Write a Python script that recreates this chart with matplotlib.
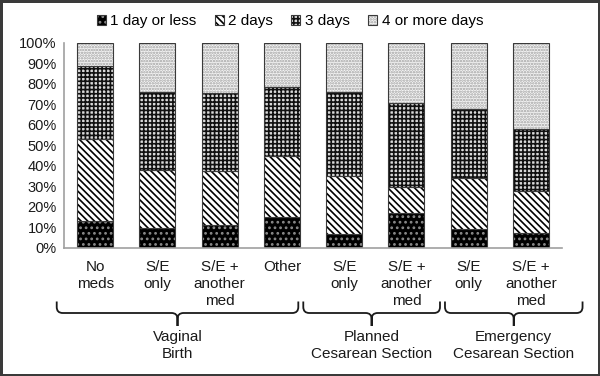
import matplotlib
matplotlib.use("Agg")
import matplotlib.pyplot as plt
from matplotlib.patches import Patch, PathPatch
from matplotlib.path import Path
from matplotlib.legend_handler import HandlerTuple
import numpy as np

plt.rcParams['font.family'] = ['Liberation Sans', 'DejaVu Sans']
plt.rcParams['hatch.linewidth'] = 1.2

categories = ["No\nmeds", "S/E\nonly", "S/E +\nanother\nmed", "Other",
              "S/E\nonly", "S/E +\nanother\nmed", "S/E\nonly", "S/E +\nanother\nmed"]
groups = ["Vaginal\nBirth", "Planned\nCesarean Section", "Emergency\nCesarean Section"]
series = ["1 day or less", "2 days", "3 days", "4 or more days"]
one_day = [13.2, 9.8, 11.1, 15.1, 6.7, 16.9, 9.1, 7.0]
two_days = [39.7, 27.9, 26.2, 29.8, 28.3, 12.7, 25.0, 20.5]
three_days = [35.9, 38.3, 38.2, 33.3, 40.8, 41.0, 33.4, 30.3]
four_plus = [11.2, 24.0, 24.5, 21.8, 24.2, 29.4, 32.5, 42.2]
values = [one_day, two_days, three_days, four_plus]

styles = [
    dict(facecolor='black', edgecolor='#8a8a8a', hatch='...'),
    dict(facecolor='white', edgecolor='black', hatch='\\\\\\\\\\'),
    dict(facecolor='#d8d8d8', edgecolor='#101010', hatch='++++'),
    dict(facecolor='#f6f6f6', edgecolor='#a0a0a0', hatch='......'),
]
outline = '#3a3a3a'

W, H = 600, 376
fig = plt.figure(figsize=(6, 3.76), dpi=100)
fig.patch.set_edgecolor('#3a3a3a')
fig.patch.set_linewidth(2.5)

ax = fig.add_axes([64 / W, 1 - 247.7 / H, 498 / W, 205 / H])
x = np.arange(len(categories))
bw = 0.58
bottom = np.zeros(len(categories))
for vals, st in zip(values, styles):
    v = np.array(vals) / 100.0
    ax.bar(x, v, bw, bottom=bottom, linewidth=0, **st)
    ax.bar(x, v, bw, bottom=bottom, fill=False, edgecolor=outline, linewidth=0.8)
    bottom += v

ax.set_xlim(-0.5, len(categories) - 0.5)
ax.set_ylim(0, 1)
ticks = np.linspace(0, 1, 11)
ax.set_yticks(ticks)
ax.set_yticklabels([f"{int(round(t * 100))}%" for t in ticks], fontsize=10.5)
ax.tick_params(axis='y', length=0, pad=5.3, colors='#1a1a1a')
ax.set_xticks(x)
ax.set_xticklabels(categories, fontsize=11, linespacing=1.25, color='#1a1a1a')
ax.tick_params(axis='x', length=0, pad=9)
for s in ['top', 'right']:
    ax.spines[s].set_visible(False)
for s in ['left', 'bottom']:
    ax.spines[s].set_color('#a0a0a0')
    ax.spines[s].set_linewidth(1.2)

# figure-fraction helpers: x from the bar axis data scale, y measured in pixels from the top
def fx(xd):
    return ax.transData.transform((xd, 0))[0] / W

def fy(ypix):
    return 1 - ypix / H

px = 1 / 62.25  # one pixel in data units
brace_x = [(-0.617, 3.264), (3.344, 5.54), (5.62, 7.83)]
for (x0, x1), g in zip(brace_x, groups):
    xc = (x0 + x1) / 2
    r = 6 * px
    ytop, yh, ytip = 301.5, 313.0, 326.0
    verts = [(x0, ytop), (x0, yh - 6), (x0, yh), (x0 + r, yh),
             (xc - r, yh), (xc, yh), (xc, yh + 6), (xc, ytip),
             (xc, yh + 6), (xc, yh), (xc + r, yh),
             (x1 - r, yh), (x1, yh), (x1, yh - 6), (x1, ytop)]
    codes = [Path.MOVETO, Path.LINETO, Path.CURVE3, Path.CURVE3,
             Path.LINETO, Path.CURVE3, Path.CURVE3, Path.LINETO,
             Path.LINETO, Path.CURVE3, Path.CURVE3,
             Path.LINETO, Path.CURVE3, Path.CURVE3, Path.LINETO]
    fverts = [(fx(a), fy(b)) for a, b in verts]
    fig.add_artist(PathPatch(Path(fverts, codes), fill=False, lw=1.3,
                             edgecolor='#1a1a1a', capstyle='butt',
                             transform=fig.transFigure))
    fig.text(fx(xc), fy(330), g, ha='center', va='top', fontsize=11,
             linespacing=1.25, color='#1a1a1a')

handles = [(Patch(linewidth=0, **st), Patch(fill=False, edgecolor=outline, linewidth=0.8))
           for st in styles]
fig.legend(handles, series, loc='center', bbox_to_anchor=(0.483, 0.944), ncol=4,
           frameon=False, fontsize=11, handlelength=0.6, handleheight=0.65,
           handletextpad=0.3, columnspacing=1.18, borderpad=0,
           handler_map={tuple: HandlerTuple(ndivide=1, pad=0)})

fig.savefig("out.png", dpi=100)
